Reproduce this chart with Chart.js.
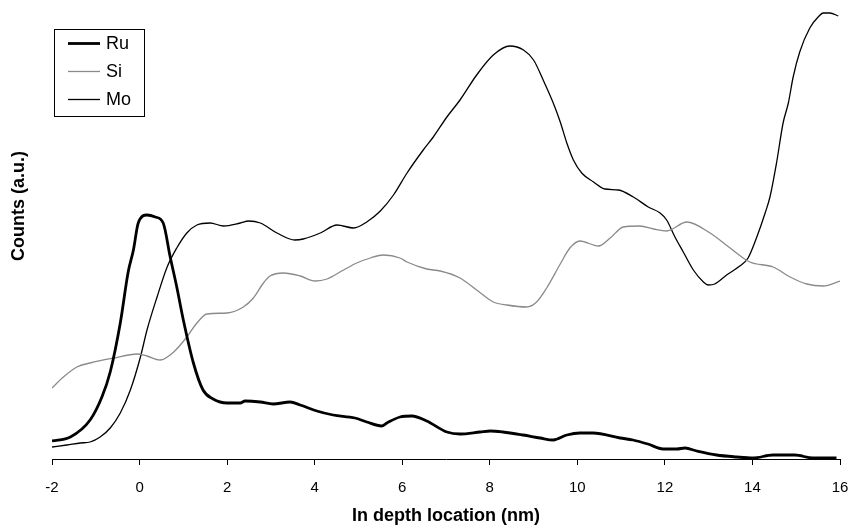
<!DOCTYPE html>
<html>
<head>
<meta charset="utf-8">
<script src="https://cdn.jsdelivr.net/npm/chart.js@4.4.0/dist/chart.umd.min.js"></script>
<style>
  html, body { margin: 0; padding: 0; background: #fff; }
  #wrap { width: 851px; height: 529px; position: relative; }
</style>
</head>
<body>
<div id="wrap"><canvas id="c" width="851" height="529"></canvas></div>
<script>
// Depth positions (nm) and counts (a.u.)
const ruX = [-2.0,-1.58,-1.13,-0.86,-0.67,-0.44,-0.26,-0.14,-0.03,0.17,0.36,0.54,0.70,0.85,1.00,1.23,1.45,1.68,2.0,2.30,2.41,2.76,3.05,3.44,3.67,4.05,4.42,4.92,5.19,5.53,5.65,5.95,6.22,6.56,7.02,7.32,7.78,8.01,8.30,8.76,9.15,9.45,9.76,10.06,10.36,10.98,11.27,11.61,11.96,12.27,12.46,12.73,13.18,13.64,14.01,14.47,14.97,15.38,15.92];
const ruY = [18,22,39,62,87,136,187,209,236,244,242,236,202,172,139,96,69,60,56,56,58,57,55,57,54,48,44,41,37,33,36,42,43,38,27,25,27,28,27,24,21,19,24,26,26,21,19,15,10,10,11,8,4,2,1,4,4,1,1];

const siX = [-2.0,-1.74,-1.43,-1.13,-0.59,-0.06,0.17,0.47,0.78,1.08,1.31,1.54,2.0,2.37,2.60,2.83,2.98,3.29,3.67,4.01,4.28,4.66,4.96,5.27,5.57,5.95,6.11,6.56,6.87,7.32,7.70,8.08,8.39,8.84,9.07,9.30,9.61,9.83,10.06,10.48,10.75,11.05,11.43,11.74,12.04,12.50,13.03,13.49,13.94,14.47,14.86,15.24,15.62,16.0];
const siY = [71,82,92,96,101,105,103,99,107,122,136,145,146,152,161,176,183,186,183,178,180,189,196,201,204,201,197,190,188,181,169,157,154,152,157,171,195,211,218,213,221,232,233,230,228,237,226,211,197,192,182,175,173,178];

const moX = [-2.0,-1.66,-1.35,-1.13,-0.90,-0.67,-0.44,-0.21,0.02,0.17,0.40,0.63,0.85,1.08,1.31,1.61,1.92,2.30,2.49,2.76,3.14,3.55,3.74,4.13,4.51,4.89,5.19,5.50,5.80,6.11,6.48,6.71,7.02,7.32,7.70,8.08,8.46,8.77,9.00,9.22,9.45,9.61,9.76,9.91,10.10,10.37,10.63,10.94,11.28,11.62,11.89,12.04,12.23,12.42,12.65,12.88,12.99,13.14,13.41,13.71,13.90,14.10,14.29,14.40,14.55,14.70,14.82,14.93,15.08,15.31,15.50,15.62,15.77,15.96];
const moY = [12,14,16,17,22,31,46,69,102,129,162,192,211,226,234,236,233,236,238,236,226,219,220,226,234,231,237,248,264,286,309,322,342,359,384,404,413,409,399,379,356,337,316,299,286,277,270,269,262,252,246,239,222,207,189,177,174,175,184,193,201,222,246,262,296,336,356,382,407,431,442,446,446,443];

const xTicks = [-2,0,2,4,6,8,10,12,14,16];
const seriesNames = ['Ru','Si','Mo'];

function pts(xs, ys) { return xs.map((x, i) => ({x: x, y: ys[i]})); }

const FONT = '"Liberation Sans", Arial, sans-serif';

const overlay = {
  id: 'overlay',
  afterDraw(chart) {
    const ctx = chart.ctx;
    // y title
    ctx.save();
    ctx.translate(19, 206);
    ctx.rotate(-Math.PI / 2);
    ctx.font = 'bold 18px ' + FONT;
    ctx.fillStyle = '#000';
    ctx.textAlign = 'center';
    ctx.textBaseline = 'middle';
    ctx.fillText('Counts (a.u.)', 0, 0);
    ctx.restore();
    // legend box
    ctx.save();
    ctx.strokeStyle = '#000';
    ctx.lineWidth = 1;
    ctx.fillStyle = '#fff';
    ctx.fillRect(54.5, 29.5, 90, 87);
    ctx.strokeRect(54.5, 29.5, 90, 87);
    const rows = [43.5, 71.5, 99.5];
    chart.data.datasets.forEach((ds, i) => {
      ctx.beginPath();
      ctx.strokeStyle = ds.borderColor;
      ctx.lineWidth = ds.borderWidth;
      ctx.moveTo(68, rows[i]);
      ctx.lineTo(100, rows[i]);
      ctx.stroke();
      ctx.fillStyle = '#000';
      ctx.font = '18px ' + FONT;
      ctx.textAlign = 'left';
      ctx.textBaseline = 'middle';
      ctx.fillText(ds.label, 106, rows[i] + 1);
    });
    ctx.restore();
  }
};

new Chart(document.getElementById('c'), {
  type: 'line',
  data: {
    datasets: [
      { label: seriesNames[0], data: pts(ruX, ruY), borderColor: '#000', borderWidth: 2.8 },
      { label: seriesNames[1], data: pts(siX, siY), borderColor: '#8a8a8a', borderWidth: 1.3 },
      { label: seriesNames[2], data: pts(moX, moY), borderColor: '#000', borderWidth: 1.3 }
    ]
  },
  options: {
    responsive: false,
    animation: false,
    devicePixelRatio: 1,
    layout: { padding: { left: 52, right: 11, top: 9, bottom: 0 } },
    elements: { point: { radius: 0 }, line: { cubicInterpolationMode: 'monotone', fill: false } },
    plugins: { legend: { display: false }, tooltip: { enabled: false } },
    scales: {
      x: {
        type: 'linear',
        min: -2, max: 16,
        afterBuildTicks: (axis) => { axis.ticks = xTicks.map(v => ({ value: v })); },
        afterFit: (scale) => { scale.height = 70; scale.paddingLeft = 0; scale.paddingRight = 0; },
        grid: { display: true, drawOnChartArea: false, drawTicks: true, tickLength: 6, color: '#000', lineWidth: 1 },
        border: { display: true, color: '#000', width: 1 },
        ticks: { color: '#000', font: { family: FONT, size: 15 }, padding: 14, maxRotation: 0 },
        title: { display: true, text: 'In depth location (nm)', color: '#000', font: { family: FONT, size: 18, weight: 'bold' }, padding: { top: 0, bottom: 2 } }
      },
      y: {
        display: false,
        min: 0, max: 450
      }
    }
  },
  plugins: [overlay]
});
</script>
</body>
</html>
